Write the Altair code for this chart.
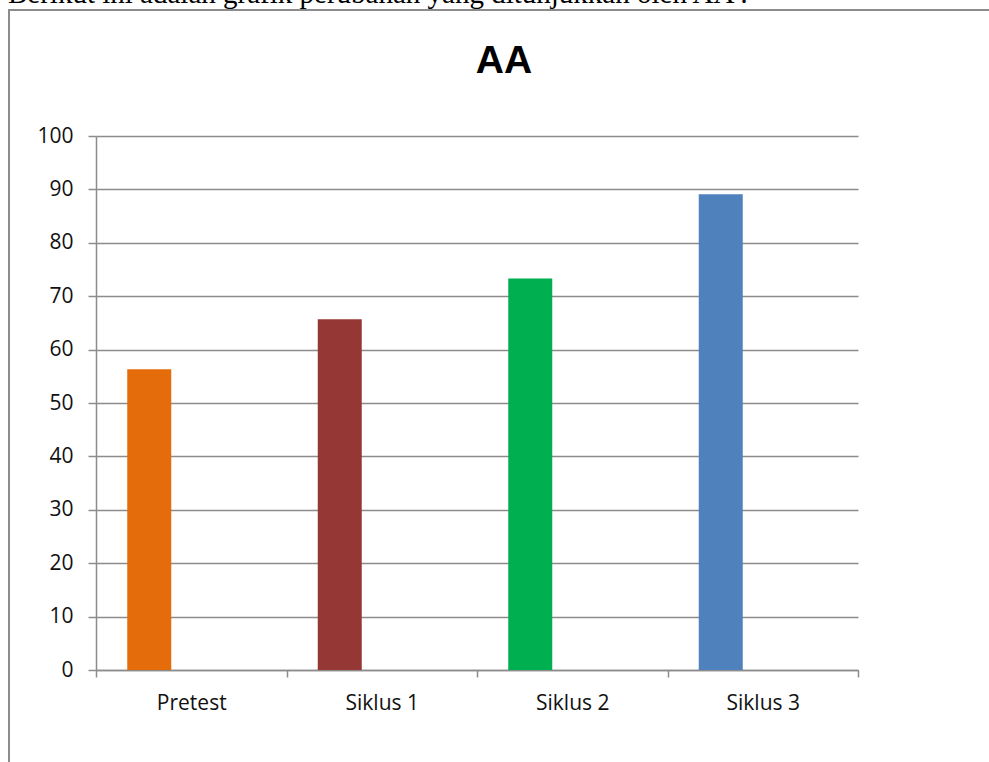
import altair as alt
import pandas as pd

# Scores per stage
categories = ["Pretest", "Siklus 1", "Siklus 2", "Siklus 3"]
scores = [56.3, 65.7, 73.3, 89.1]
bar_colors = ["#E46C0A", "#953735", "#00B050", "#4F81BD"]

intro_text = "Berikut ini adalah grafik perubahan yang ditunjukkan oleh AA :"
chart_title = "AA"

df = pd.DataFrame({"tahap": categories, "nilai": scores})
one = pd.DataFrame({"k": [0]})

GRAY = "#8c8c8c"
W, H = 762, 534

x_enc = alt.X(
    "tahap:N",
    sort=categories,
    scale=alt.Scale(paddingInner=0, paddingOuter=0),
    axis=alt.Axis(
        title=None, labelAngle=0, tickBand="extent", tickSize=7,
        labelPadding=15, domainColor=GRAY, tickColor=GRAY, domainWidth=1.5,
        tickWidth=1.5, labelFont="Open Sans", labelFontSize=21,
        labelColor="#111111", grid=False,
    ),
)
y_enc = alt.Y(
    "nilai:Q",
    scale=alt.Scale(domain=[0, 100], nice=False),
    axis=alt.Axis(
        title=None, values=list(range(0, 101, 10)), tickSize=8, labelPadding=15,
        domainColor=GRAY, tickColor=GRAY, gridColor=GRAY, domainWidth=1.5,
        tickWidth=1.5, gridWidth=1.5, labelFont="Open Sans", labelFontSize=21,
        labelColor="#111111", grid=True,
    ),
)

bars = alt.Chart(df).mark_bar(width=44, xOffset=-42).encode(
    x=x_enc,
    y=y_enc,
    color=alt.Color("tahap:N", scale=alt.Scale(domain=categories, range=bar_colors), legend=None),
)

title_mark = alt.Chart(one).mark_text(
    text=chart_title, font="Liberation Sans", fontWeight="bold", fontSize=39,
    align="center", baseline="alphabetic", color="#000000",
).encode(x=alt.value(408), y=alt.value(-63))

intro_mark = alt.Chart(one).mark_text(
    text=intro_text, font="Liberation Serif", fontSize=29,
    align="left", baseline="alphabetic", color="#000000",
).encode(x=alt.value(-88), y=alt.value(-133))

frame_left = alt.Chart(one).mark_rule(color=GRAY, strokeWidth=2).encode(
    x=alt.value(-87), y=alt.value(-126), y2=alt.value(762 - 136)
)
frame_top = alt.Chart(one).mark_rule(color=GRAY, strokeWidth=2).encode(
    x=alt.value(-88), x2=alt.value(989 - 96), y=alt.value(-126)
)

chart = (
    alt.layer(bars, title_mark, intro_mark, frame_left, frame_top)
    .properties(
        width=W, height=H,
        autosize=alt.AutoSizeParams(type="none"),
        padding={"left": 96, "top": 136, "right": 131, "bottom": 92},
        background="white",
    )
    .configure_view(stroke=None)
)

chart.save("out.html", embed_options={"renderer": "svg", "actions": False})
